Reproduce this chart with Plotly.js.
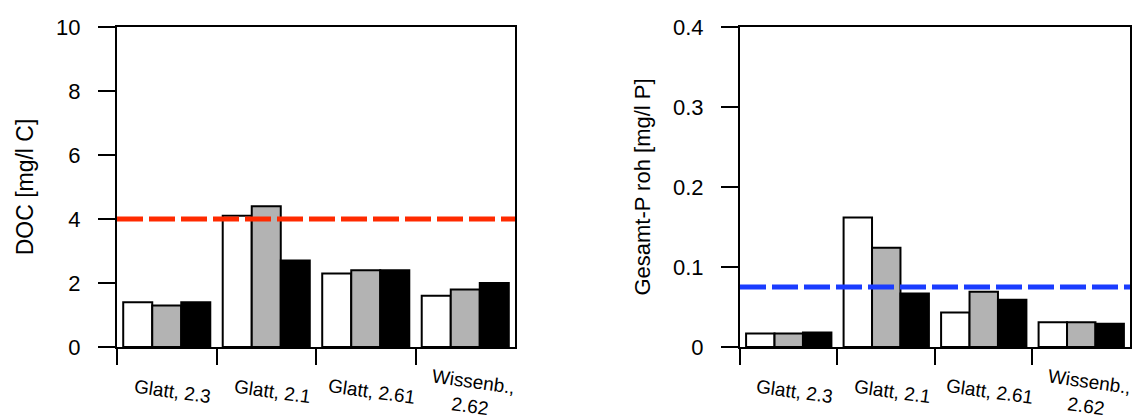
<!DOCTYPE html>
<html>
<head>
<meta charset="utf-8">
<script src="https://cdn.plot.ly/plotly-3.0.1.min.js"></script>
<style>
  html, body { margin: 0; padding: 0; background: #ffffff; }
  #chart { width: 1136px; height: 417px; }
</style>
</head>
<body>
<div id="chart"></div>
<script>
// Sampling sites (river, km)
const categories = ['Glatt, 2.3', 'Glatt, 2.1', 'Glatt, 2.61', 'Wissenb.,<br>2.62'];

// Dissolved organic carbon [mg/l C], three campaigns
const docRun1 = [1.4, 4.1, 2.3, 1.6];
const docRun2 = [1.3, 4.4, 2.4, 1.8];
const docRun3 = [1.4, 2.7, 2.4, 2.0];
const docLimit = 4;

// Total phosphorus, raw [mg/l P], three campaigns
const tpRun1 = [0.017, 0.162, 0.043, 0.031];
const tpRun2 = [0.017, 0.124, 0.069, 0.031];
const tpRun3 = [0.018, 0.067, 0.059, 0.029];
const tpLimit = 0.075;

// Axis ticks
const docTicks = [0, 2, 4, 6, 8, 10];
const tpTicks = [0, 0.1, 0.2, 0.3, 0.4];
const tpTickText = ['0', '0.1', '0.2', '0.3', '0.4'];

const FONT = 'Liberation Sans, Arial, Helvetica, sans-serif';
const fills = ['#ffffff', '#b3b3b3', '#000000'];

function barTrace(values, fill, xa, ya) {
  return {
    type: 'bar',
    x: categories,
    y: values,
    xaxis: xa,
    yaxis: ya,
    marker: { color: fill, line: { color: '#000000', width: 2 } },
    showlegend: false,
    hoverinfo: 'y'
  };
}

const data = [
  barTrace(docRun1, fills[0], 'x', 'y'),
  barTrace(docRun2, fills[1], 'x', 'y'),
  barTrace(docRun3, fills[2], 'x', 'y'),
  barTrace(tpRun1, fills[0], 'x2', 'y2'),
  barTrace(tpRun2, fills[1], 'x2', 'y2'),
  barTrace(tpRun3, fills[2], 'x2', 'y2')
];

const xCommon = {
  type: 'category',
  range: [-0.5, 3.5],
  showline: true,
  linecolor: '#000000',
  linewidth: 2,
  mirror: true,
  ticks: 'outside',
  tickson: 'boundaries',
  ticklen: 16,
  tickwidth: 2,
  tickcolor: '#000000',
  showticklabels: false,
  showgrid: false,
  zeroline: false,
  fixedrange: true
};

const yCommon = {
  showline: true,
  linecolor: '#000000',
  linewidth: 2,
  mirror: true,
  ticks: 'outside',
  ticklen: 17,
  tickwidth: 2,
  tickcolor: '#000000',
  ticklabelstandoff: 13,
  tickfont: { family: FONT, size: 22, color: '#000000' },
  showgrid: false,
  zeroline: false,
  fixedrange: true
};

// Rotated site labels under each category (plot area spans 27..347 px)
const labelAnnotations = [];
['x', 'x2'].forEach(function (xa) {
  categories.forEach(function (c) {
    const lines = c.split('<br>').length;
    const centerPx = 391 + 3 * (lines - 1);
    labelAnnotations.push({
      xref: xa,
      yref: 'paper',
      x: c,
      y: (347 - centerPx) / 320,
      yanchor: 'middle',
      xanchor: 'center',
      xshift: 6,
      text: c,
      textangle: 8,
      showarrow: false,
      align: 'center',
      font: { family: FONT, size: 19, color: '#000000' }
    });
  });
});

const layout = {
  width: 1136,
  height: 417,
  margin: { l: 117, r: 6, t: 27, b: 70 },
  paper_bgcolor: '#ffffff',
  plot_bgcolor: '#ffffff',
  font: { family: FONT, color: '#000000' },
  barmode: 'group',
  bargap: 0.125,
  bargroupgap: 0,
  showlegend: false,
  xaxis: Object.assign({}, xCommon, { domain: [0, 0.3929], anchor: 'y' }),
  xaxis2: Object.assign({}, xCommon, { domain: [0.615, 1], anchor: 'y2' }),
  yaxis: Object.assign({}, yCommon, {
    anchor: 'x',
    range: [0, 10],
    tickvals: docTicks,
    title: { text: 'DOC [mg/l C]', font: { family: FONT, size: 23, color: '#000000' }, standoff: 16 }
  }),
  yaxis2: Object.assign({}, yCommon, {
    anchor: 'x2',
    range: [0, 0.4],
    tickvals: tpTicks,
    ticktext: tpTickText,
    title: { text: 'Gesamt-P roh [mg/l P]', font: { family: FONT, size: 22, color: '#000000' }, standoff: 16 }
  }),
  shapes: [
    {
      type: 'line', xref: 'x domain', yref: 'y',
      x0: 0, x1: 1, y0: docLimit, y1: docLimit,
      line: { color: '#ff2a00', width: 5, dash: '26px,6px' }
    },
    {
      type: 'line', xref: 'x2 domain', yref: 'y2',
      x0: 0, x1: 1, y0: tpLimit, y1: tpLimit,
      line: { color: '#1a3cff', width: 5, dash: '26px,6px' }
    }
  ],
  annotations: labelAnnotations
};

Plotly.newPlot('chart', data, layout, { displayModeBar: false, staticPlot: true });
</script>
</body>
</html>
